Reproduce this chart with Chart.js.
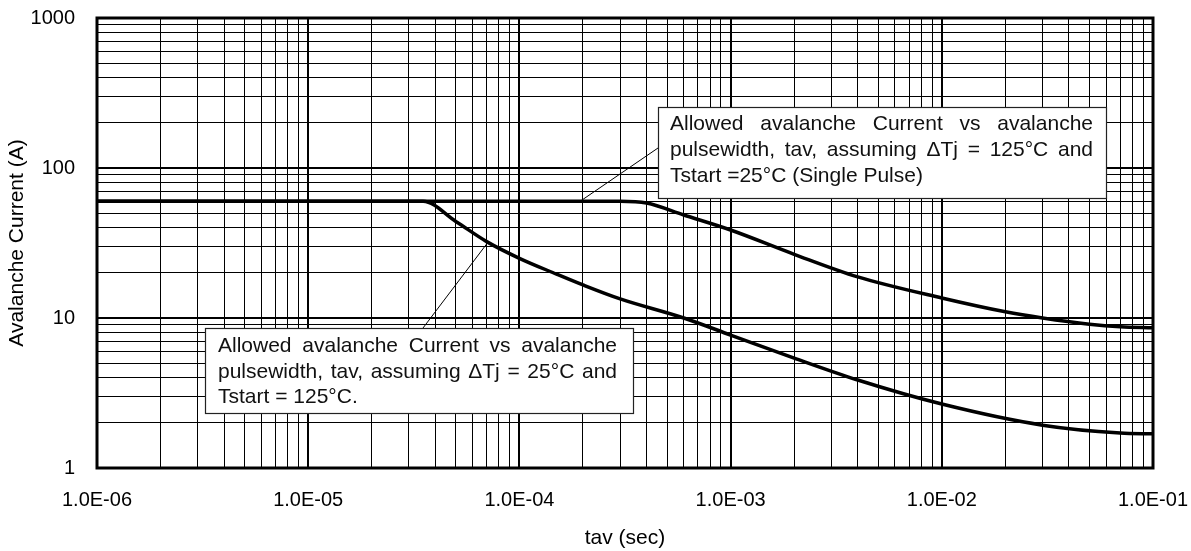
<!DOCTYPE html>
<html>
<head>
<meta charset="utf-8">
<title>Avalanche Current vs Pulsewidth</title>
<script src="https://cdn.jsdelivr.net/npm/chart.js"></script>
<style>
  body { margin: 0; background: #fff; }
  #wrap { width: 1191px; height: 551px; }
</style>
</head>
<body>
<div id="wrap"><canvas id="avChart" width="1191" height="551"></canvas></div>
<script>
// curve: dTj = 125C, Tstart = 25C (single pulse)
const upperTime = [1e-6, 1e-5, 1e-4, 3e-4, 4e-4, 6e-4, 1e-3, 2e-3, 4e-3, 1e-2, 2e-2, 3e-2, 5e-2, 7e-2, 1e-1];
const upperCurrent = [60, 60, 60, 60, 58.4, 48.6, 38.6, 26.6, 18.8, 13.6, 11.0, 10.0, 9.1, 8.75, 8.6];

// curve: dTj = 25C, Tstart = 125C
const lowerTime = [1e-6, 1e-5, 3.5e-5, 5e-5, 7e-5, 1e-4, 1.5e-4, 2e-4, 3e-4, 6e-4, 1e-3, 2e-3, 4e-3, 1e-2, 3e-2, 7e-2, 1e-1];
const lowerCurrent = [60, 60, 60, 44, 32.3, 25, 19.6, 16.6, 13.4, 10, 7.7, 5.4, 3.86, 2.67, 1.93, 1.71, 1.69];

// tick labels
const xTickValues = [1e-6, 1e-5, 1e-4, 1e-3, 1e-2, 1e-1];
const xTickLabels = ['1.0E-06', '1.0E-05', '1.0E-04', '1.0E-03', '1.0E-02', '1.0E-01'];
const yTickValues = [1, 10, 100, 1000];
const yTickLabels = ['1', '10', '100', '1000'];

// callout texts and the curve point each one points at
const upperNoteLines = ['Allowed avalanche Current vs avalanche', 'pulsewidth, tav, assuming \u0394Tj = 125\u00b0C and', 'Tstart =25\u00b0C (Single Pulse)'];
const upperNoteTarget = [1.94e-4, 60];
const lowerNoteLines = ['Allowed avalanche Current vs avalanche', 'pulsewidth, tav, assuming \u0394Tj = 25\u00b0C and', 'Tstart = 125\u00b0C.'];
const lowerNoteTarget = [7.1e-5, 32];

const FONT = "'Liberation Sans', Arial, sans-serif";

// grid positions 1..9 x 10^n for each decade between min and max
function logGrid(min, max) {
  const out = [];
  for (let e = Math.round(Math.log10(min)); e <= Math.round(Math.log10(max)); e++) {
    for (let m = 1; m <= 9; m++) {
      const v = parseFloat((m * Math.pow(10, e)).toPrecision(3));
      if (v >= min * 0.999 && v <= max * 1.001) out.push(v);
    }
  }
  return out;
}

function isDecade(v) {
  const l = Math.log10(v);
  return Math.abs(l - Math.round(l)) < 1e-6;
}

function labelFor(values, labels, v) {
  const i = values.findIndex(t => Math.abs(t - v) / t < 1e-6);
  return i >= 0 ? labels[i] : '';
}

function toPoints(xs, ys) {
  return xs.map((x, i) => ({ x: x, y: ys[i] }));
}

// the layout would otherwise push the plot in for the edge labels
function noEdgePadding(scale) {
  scale.paddingTop = 0;
  scale.paddingBottom = 0;
  scale.paddingLeft = 0;
  scale.paddingRight = 0;
}

// draws one line of words spread across the full width
function drawLine(ctx, text, left, right, y, justify) {
  const words = text.split(' ');
  if (!justify || words.length < 2) {
    ctx.fillText(text, left, y);
    return;
  }
  const total = words.reduce((s, w) => s + ctx.measureText(w).width, 0);
  const gap = (right - left - total) / (words.length - 1);
  let x = left;
  words.forEach(w => {
    ctx.fillText(w, x, y);
    x += ctx.measureText(w).width + gap;
  });
}

const notes = [
  { lines: upperNoteLines, target: upperNoteTarget,
    box: { left: 658, top: 107, right: 1106, bottom: 198 },
    textLeft: 670, textRight: 1093, baselines: [130, 156, 182], anchor: [658, 148] },
  { lines: lowerNoteLines, target: lowerNoteTarget,
    box: { left: 205, top: 328, right: 633, bottom: 413 },
    textLeft: 218, textRight: 617, baselines: [352, 378, 403], anchor: [423, 328] }
];

const framePlugin = {
  id: 'frame',
  afterDatasetsDraw(chart) {
    const a = chart.chartArea;
    const ctx = chart.ctx;
    ctx.save();
    ctx.strokeStyle = '#000';
    ctx.lineWidth = 3;
    ctx.strokeRect(a.left, a.top, a.right - a.left, a.bottom - a.top);
    ctx.restore();
  },
  afterDraw(chart) {
    const ctx = chart.ctx;
    const xs = chart.scales.x;
    const ys = chart.scales.y;
    ctx.save();
    notes.forEach(n => {
      // leader line
      ctx.strokeStyle = '#000';
      ctx.lineWidth = 1;
      ctx.beginPath();
      ctx.moveTo(n.anchor[0], n.anchor[1]);
      ctx.lineTo(xs.getPixelForValue(n.target[0]), ys.getPixelForValue(n.target[1]));
      ctx.stroke();
      // box
      const b = n.box;
      ctx.fillStyle = '#fff';
      ctx.fillRect(b.left, b.top, b.right - b.left, b.bottom - b.top);
      ctx.strokeStyle = '#222';
      ctx.lineWidth = 1.2;
      ctx.strokeRect(b.left + 0.5, b.top + 0.5, b.right - b.left, b.bottom - b.top);
      // text
      ctx.fillStyle = '#111';
      ctx.font = '21px ' + FONT;
      ctx.textBaseline = 'alphabetic';
      ctx.textAlign = 'left';
      n.lines.forEach((line, i) => {
        drawLine(ctx, line, n.textLeft, n.textRight, n.baselines[i], i < n.lines.length - 1);
      });
    });
    ctx.restore();
  }
};

const ctx = document.getElementById('avChart').getContext('2d');
new Chart(ctx, {
  type: 'scatter',
  data: {
    datasets: [
      {
        label: 'dTj = 125C, Tstart = 25C',
        data: toPoints(upperTime, upperCurrent),
        showLine: true,
        borderColor: '#000',
        borderWidth: 3.5,
        pointRadius: 0,
        cubicInterpolationMode: 'monotone'
      },
      {
        label: 'dTj = 25C, Tstart = 125C',
        data: toPoints(lowerTime, lowerCurrent),
        showLine: true,
        borderColor: '#000',
        borderWidth: 3.5,
        pointRadius: 0,
        cubicInterpolationMode: 'monotone'
      }
    ]
  },
  options: {
    responsive: false,
    animation: false,
    layout: { padding: { top: 18, right: 38, left: 0, bottom: 0 } },
    plugins: {
      legend: { display: false },
      tooltip: { enabled: false }
    },
    scales: {
      x: {
        type: 'logarithmic',
        min: 1e-6,
        max: 1e-1,
        afterBuildTicks: scale => { scale.ticks = logGrid(1e-6, 1e-1).map(v => ({ value: v })); },
        afterFit: scale => { scale.height = 83; noEdgePadding(scale); },
        grid: {
          color: '#000',
          lineWidth: c => (c.tick && isDecade(c.tick.value)) ? 2 : 1,
          drawTicks: false
        },
        border: { display: false },
        ticks: {
          autoSkip: false,
          maxRotation: 0,
          minRotation: 0,
          padding: 20,
          color: '#000',
          font: { family: FONT, size: 20 },
          callback: v => labelFor(xTickValues, xTickLabels, v)
        },
        title: {
          display: true,
          text: 'tav (sec)',
          color: '#000',
          font: { family: FONT, size: 21 },
          padding: { top: 0, bottom: 0 }
        }
      },
      y: {
        type: 'logarithmic',
        min: 1,
        max: 1000,
        afterBuildTicks: scale => { scale.ticks = logGrid(1, 1000).map(v => ({ value: v })); },
        afterFit: scale => { scale.width = 97; noEdgePadding(scale); },
        grid: {
          color: '#000',
          lineWidth: c => (c.tick && isDecade(c.tick.value)) ? 2 : 1,
          drawTicks: false
        },
        border: { display: false },
        ticks: {
          autoSkip: false,
          padding: 22,
          color: '#000',
          font: { family: FONT, size: 20 },
          callback: v => labelFor(yTickValues, yTickLabels, v)
        },
        title: {
          display: true,
          text: 'Avalanche Current (A)',
          color: '#000',
          font: { family: FONT, size: 21 },
          padding: { top: 5, bottom: 0 }
        }
      }
    }
  },
  plugins: [framePlugin]
});
</script>
</body>
</html>
